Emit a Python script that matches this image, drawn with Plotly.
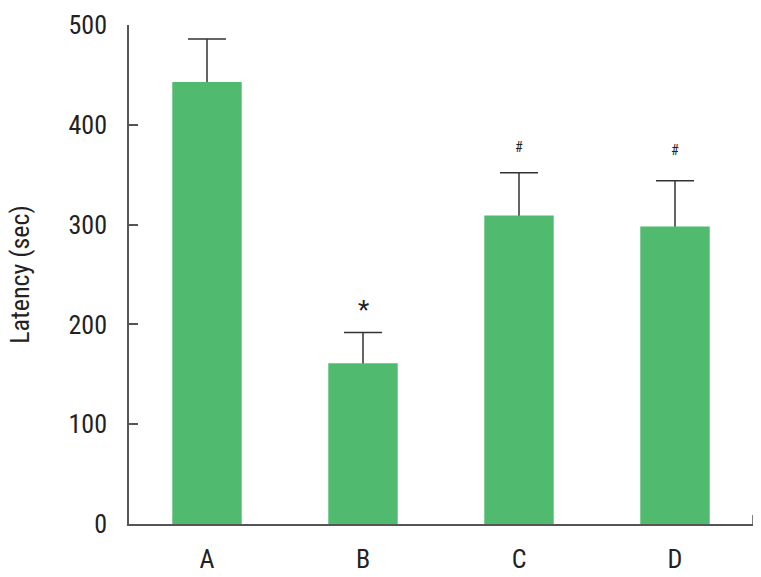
import plotly.graph_objects as go

categories = ["A", "B", "C", "D"]
latency = [443, 161, 309, 298]
error_up = [43, 31, 43, 46]
marks = ["", "*", "#", "#"]
mark_y = [None, 214, 378, 375]
mark_size = [0, 26, 14, 14]

FONT = "Roboto Condensed, Roboto, sans-serif"
TXT = "#222222"
BAR = "#50BB6F"

# hide the lower cap of the error bars under the bar top
tuck = 2
err_base = [v - tuck for v in latency]
err_len = [e + tuck for e in error_up]

fig = go.Figure()
fig.add_trace(go.Bar(
    x=categories, y=err_base, width=0.445,
    marker=dict(color="rgba(0,0,0,0)", line=dict(width=0)),
    error_y=dict(type="data", array=err_len, arrayminus=[0]*4, symmetric=False,
                 color="#333333", thickness=1.5, width=19),
    showlegend=False, hoverinfo="skip",
))
fig.add_trace(go.Bar(
    x=categories, y=latency, width=0.445,
    marker=dict(color=BAR, line=dict(width=0)),
    showlegend=False,
))

for c, m, my, ms in zip(categories, marks, mark_y, mark_size):
    if m:
        fig.add_annotation(x=c, y=my, text=m, showarrow=False,
                           font=dict(family=FONT, size=ms, color=TXT),
                           xref="x", yref="y")

# small end tick at right of x-axis
fig.add_shape(type="line", xref="x", yref="y", x0=3.5, x1=3.5, y0=0, y1=9,
              line=dict(color="#555555", width=1.5))

fig.update_layout(
    width=761, height=577,
    margin=dict(l=129, r=8, t=25, b=53),
    paper_bgcolor="white", plot_bgcolor="white",
    font=dict(family=FONT, color=TXT),
    barmode="overlay",
)
fig.update_xaxes(
    type="category", range=[-0.5, 3.5], automargin=False,
    showline=True, linecolor="#555555", linewidth=1.5,
    ticks="", showgrid=False, zeroline=False,
    tickfont=dict(family=FONT, size=26, color=TXT),
    ticklabelstandoff=11,
)
fig.update_yaxes(
    range=[0, 500], tickvals=[0, 100, 200, 300, 400, 500], automargin=False,
    showline=True, linecolor="#555555", linewidth=1.5,
    ticks="inside", ticklen=9, tickwidth=1.5, tickcolor="#555555",
    showgrid=False, zeroline=False,
    tickfont=dict(family=FONT, size=26, color=TXT),
    ticklabelstandoff=15,
    title=dict(text="Latency (sec)", font=dict(family=FONT, size=26, color=TXT), standoff=31),
)

fig.write_html("out.html", config={"displayModeBar": False},
               post_script="document.body.style.margin='0';")
